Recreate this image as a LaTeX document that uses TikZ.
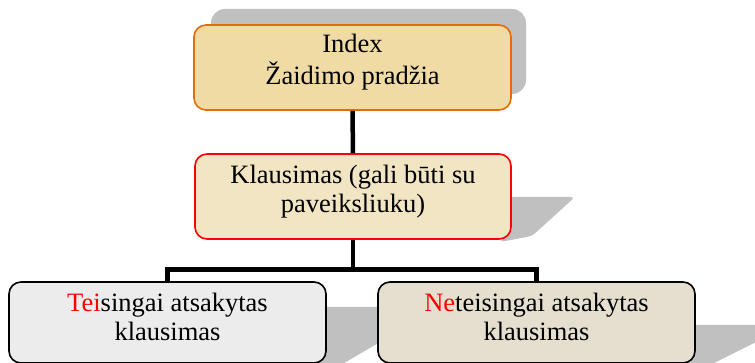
\documentclass[tikz,border=0pt]{standalone}
\usepackage{fontspec}
\setmainfont{Liberation Serif}
\definecolor{shadowgray}{RGB}{192,192,192}
\definecolor{topfill}{RGB}{240,219,165}
\definecolor{topdraw}{RGB}{228,108,10}
\definecolor{midfill}{RGB}{242,229,196}
\definecolor{leftfill}{RGB}{236,236,236}
\definecolor{rightfill}{RGB}{229,223,207}
\begin{document}
\begin{tikzpicture}[x=1pt,y=-1pt,
  box/.style={rounded corners=12pt, line width=1.6pt, inner sep=0pt},
  txt/.style={align=center, inner sep=0pt, font=\fontsize{26.5}{29}\selectfont, text=black},
  conn/.style={line width=4.5pt, black},
  shade/.style={fill=shadowgray, draw=none}]
\useasboundingbox (0,0) rectangle (755,363);
% shadows
\fill[shade, rounded corners=14pt] (211,9) rectangle (526,94);
\fill[shade, rounded corners=4pt] (500,197) -- (575,197) -- (532,236) -- (500,242) -- cycle;
\fill[shade] (320,307) -- (440,307) -- (315,380) -- cycle;
\fill[shade] (690,325) -- (790,325) -- (680,380) -- cycle;
% boxes
\node[box, draw=topdraw, fill=topfill, minimum width=317pt, minimum height=85pt] (top) at (352.5,67.5) {};
\node[box, draw=red, fill=midfill, minimum width=316pt, minimum height=85pt] (mid) at (353,196.5) {};
\node[box, draw=black, fill=leftfill, minimum width=317pt, minimum height=81pt] (left) at (167.5,322.5) {};
\node[box, draw=black, fill=rightfill, minimum width=317pt, minimum height=81pt] (right) at (536.5,322.5) {};
% texts (anchored at last-line baseline)
\node[txt, anchor=base] (toptxt) at (352.5,85) {Index\\[3pt]Žaidimo pradžia};
\node[txt, anchor=base] (midtxt) at (353,213) {Klausimas (gali būti su\\paveiksliuku)};
\node[txt, anchor=base] (lefttxt) at (167.5,341) {\textcolor{red}{Tei}singai atsakytas\\klausimas};
\node[txt, anchor=base] (righttxt) at (536.5,341) {\textcolor{red}{Ne}teisingai atsakytas\\klausimas};
% connectors
\coordinate (j) at (352.5,269.5);
\draw[conn] (top.south) -- (mid.north);
\draw[conn] (mid.south) -- (mid.south |- j);
\draw[conn, line join=miter] (left.north) -- (left.north |- j) -- (right.north |- j) -- (right.north);
\end{tikzpicture}
\end{document}
